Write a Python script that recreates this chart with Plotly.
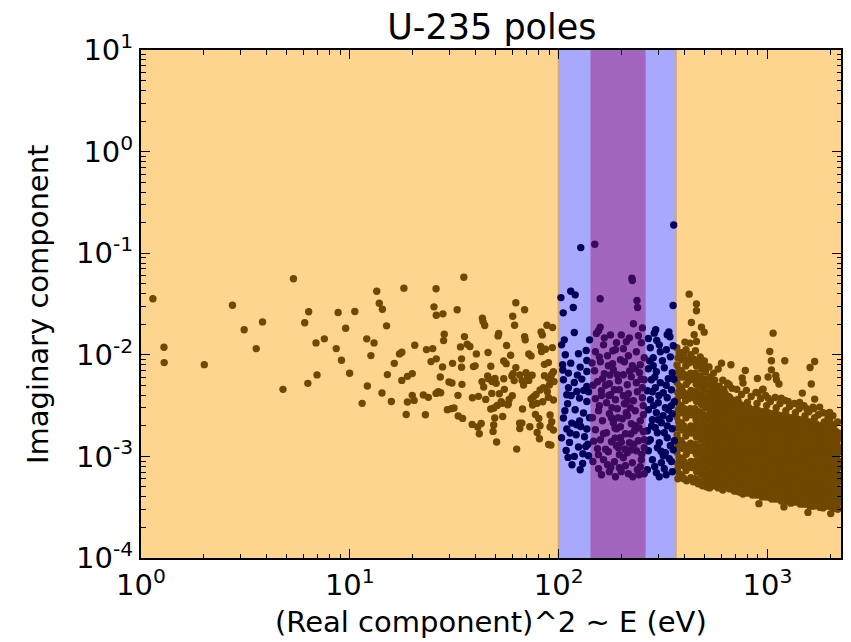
import numpy as np
import plotly.graph_objects as go

# ---------------- data (log10 of energy in eV, log10 of imaginary component) -------------
# sparse poles below 100 eV (brown)
low_pts = [
    (0.057, -1.449), (0.110, -1.926), (0.111, -2.077), (0.303, -2.097), (0.438, -1.512),
    (0.494, -1.754), (0.582, -1.676), (0.552, -1.939), (0.680, -2.340), (0.730, -1.251),
    (0.784, -1.685), (0.803, -1.577), (0.799, -2.281), (0.838, -1.883), (0.843, -2.198),
    (0.878, -1.843), (0.944, -1.584), (0.935, -1.939), (0.960, -2.054), (0.980, -1.739),
    (0.999, -2.182), (1.024, -1.574), (1.059, -2.478), (1.081, -1.843), (1.084, -2.307),
    (1.101, -2.008), (1.116, -1.883), (1.129, -1.374), (1.141, -1.492), (1.156, -1.551),
    (1.176, -1.715), (1.180, -2.195), (1.154, -2.376), (1.199, -2.459), (1.213, -2.084),
    (1.238, -1.991), (1.249, -1.975), (1.259, -1.344), (1.249, -2.252), (1.276, -2.212),
    (1.299, -2.185), (1.270, -2.587), (1.276, -2.464), (1.299, -2.399), (1.308, -2.449),
    (1.311, -1.906), (1.413, -1.350), (1.403, -1.528), (1.414, -1.610), (1.446, -1.597),
    (1.514, -1.557), (1.795, -1.488), (1.837, -1.557), (1.780, -1.620), (1.789, -1.709),
    (1.635, -1.640), (1.638, -1.673), (1.646, -1.712), (1.452, -1.798), (1.449, -1.860),
    (1.549, -1.821), (1.367, -1.949), (1.397, -1.939), (1.414, -2.040), (1.389, -2.067),
    (1.530, -1.922), (1.562, -1.896), (1.575, -1.919), (1.606, -1.991), (1.662, -1.978),
    (1.710, -1.814), (1.713, -1.791), (1.751, -1.909), (1.770, -2.005), (1.737, -2.060),
    (1.749, -2.087), (1.837, -1.821), (1.840, -1.853), (1.916, -1.774), (1.922, -1.804),
    (1.944, -1.709), (1.971, -1.732), (1.914, -1.919), (1.918, -1.968), (1.937, -1.946),
    (1.970, -1.929), (1.857, -1.991), (1.868, -2.011), (1.932, -2.094), (1.951, -2.077),
    (1.795, -2.126), (1.492, -2.084), (1.535, -2.040), (1.535, -2.123), (1.444, -2.119),
    (1.592, -2.116), (1.600, -2.109), (1.675, -2.113), (1.433, -2.218), (1.660, -2.208),
    (1.665, -2.235), (1.695, -2.232), (1.681, -2.264), (1.701, -2.281), (1.633, -2.264),
    (1.641, -2.317), (1.737, -2.235), (1.776, -2.208), (1.782, -2.185), (1.787, -2.254),
    (1.814, -2.198), (1.844, -2.176), (1.851, -2.205), (1.873, -2.202), (1.857, -2.252),
    (1.825, -2.254), (1.832, -2.297), (1.489, -2.277), (1.475, -2.267), (1.537, -2.291),
    (1.424, -2.363), (1.435, -2.373), (1.413, -2.380), (1.518, -2.399), (1.587, -2.422),
    (1.616, -2.409), (1.651, -2.439), (1.680, -2.380), (1.716, -2.383), (1.740, -2.340),
    (1.778, -2.402), (1.759, -2.484), (1.725, -2.462), (1.352, -2.395), (1.376, -2.419),
    (1.362, -2.590), (1.467, -2.540), (1.486, -2.530), (1.499, -2.524), (1.519, -2.603),
    (1.540, -2.626), (1.586, -2.685), (1.613, -2.711), (1.629, -2.676), (1.620, -2.777),
    (1.675, -2.534), (1.690, -2.524), (1.706, -2.498), (1.729, -2.478), (1.756, -2.491),
    (1.763, -2.439), (1.694, -2.622), (1.689, -2.691), (1.686, -2.754), (1.732, -2.607),
    (1.703, -2.859), (1.799, -2.928), (1.827, -2.534), (1.813, -2.672), (1.824, -2.672),
    (1.814, -2.725), (1.862, -2.708), (1.897, -2.764), (1.908, -2.826), (1.911, -2.698),
    (1.868, -2.435), (1.880, -2.412), (1.892, -2.390), (1.911, -2.346), (1.927, -2.323),
    (1.946, -2.363), (1.956, -2.297), (1.967, -2.252), (1.978, -2.264), (1.875, -2.494),
    (1.897, -2.478), (1.924, -2.462), (1.951, -2.419), (1.975, -2.445), (1.889, -2.587),
    (1.905, -2.626), (1.959, -2.593), (1.967, -2.659), (1.959, -2.711), (1.975, -2.741),
    (1.952, -2.883), (1.963, -2.889), (1.932, -2.205), (1.951, -2.232), (1.967, -2.192),
    (1.975, -2.166), (1.546, -1.236),
]

# poles in the first blue window (100 - 142 eV)
blue_left_pts = [
    (2.075, -1.781), (2.032, -2.000), (2.058, -2.082), (2.095, -1.990), (2.132, -1.958),
    (2.135, -2.056), (2.103, -2.121), (2.135, -2.164), (2.047, -2.180), (2.023, -2.246),
    (2.075, -2.272), (2.111, -2.239), (2.135, -2.312), (2.087, -2.361), (2.039, -2.393),
    (2.100, -2.426), (2.135, -2.459), (2.043, -2.482), (2.079, -2.541), (2.119, -2.573),
    (2.023, -2.622), (2.063, -2.672), (2.106, -2.705), (2.135, -2.731), (2.039, -2.731),
    (2.084, -2.787), (2.052, -2.862), (2.095, -2.908), (2.130, -2.902), (2.036, -2.941),
    (2.075, -3.000), (2.116, -2.974), (2.064, -3.082), (2.103, -3.131), (2.014, -1.902),
    (2.148, -1.853), (2.143, -2.364), (2.014, -2.816), (2.148, -2.620), (2.086, -2.688),
    (2.124, -2.806), (2.047, -2.325), (2.143, -2.993), (2.019, -2.098),
    (2.030, -2.55), (2.100, -2.65), (2.060, -2.40), (2.120, -2.35), (2.045, -3.01),
    (2.140, -2.88), (2.090, -2.20), (2.020, -2.15), (2.115, -3.07), (2.055, -2.77),
    (2.106, -0.945), (2.011, -1.437), (2.058, -1.374), (2.079, -1.410), (2.070, -1.535),
    (2.022, -1.587), (2.027, -1.853),
]

# poles in the purple window (142 - 261 eV)
purple_pts = [
    (2.191, -1.764), (2.248, -1.804), (2.300, -1.804), (2.339, -1.833), (2.382, -1.813),
    (2.401, -1.735), (2.358, -1.695), (2.396, -1.882), (2.277, -1.882), (2.215, -1.902),
    (2.310, -1.941), (2.176, -1.970), (2.234, -2.010), (2.272, -1.951), (2.334, -2.010),
    (2.372, -1.970), (2.410, -2.029), (2.200, -2.069), (2.258, -2.088), (2.296, -2.049),
    (2.353, -2.108), (2.391, -2.098), (2.172, -2.157), (2.219, -2.187), (2.262, -2.147),
    (2.310, -2.196), (2.348, -2.216), (2.387, -2.177), (2.186, -2.265), (2.243, -2.285),
    (2.286, -2.256), (2.329, -2.295), (2.372, -2.275), (2.410, -2.246), (2.205, -2.354),
    (2.248, -2.393), (2.291, -2.344), (2.334, -2.383), (2.377, -2.364), (2.176, -2.433),
    (2.229, -2.472), (2.272, -2.442), (2.315, -2.482), (2.358, -2.452), (2.401, -2.423),
    (2.191, -2.551), (2.243, -2.580), (2.281, -2.531), (2.324, -2.570), (2.367, -2.551),
    (2.406, -2.590), (2.210, -2.649), (2.262, -2.669), (2.305, -2.629), (2.348, -2.679),
    (2.391, -2.649), (2.176, -2.737), (2.229, -2.767), (2.277, -2.728), (2.320, -2.777),
    (2.363, -2.747), (2.406, -2.757), (2.200, -2.836), (2.253, -2.856), (2.296, -2.816),
    (2.339, -2.865), (2.382, -2.846), (2.186, -2.924), (2.238, -2.954), (2.286, -2.915),
    (2.329, -2.964), (2.372, -2.944), (2.410, -2.915), (2.215, -3.032), (2.267, -3.052),
    (2.310, -3.013), (2.353, -3.062), (2.396, -3.032), (2.191, -3.121), (2.243, -3.151),
    (2.291, -3.111), (2.334, -3.171), (2.377, -3.131), (2.272, -3.200),
    (2.219, -1.833), (2.324, -1.872), (2.195, -2.020), (2.315, -2.069), (2.238, -2.108),
    (2.281, -2.196), (2.367, -2.137), (2.210, -2.236), (2.401, -2.324), (2.267, -2.344),
    (2.310, -2.403), (2.195, -2.501), (2.343, -2.521), (2.253, -2.619), (2.296, -2.708),
    (2.367, -2.698), (2.215, -2.777), (2.410, -2.836), (2.277, -2.895), (2.348, -2.934),
    (2.191, -2.983), (2.291, -2.983), (2.391, -3.101), (2.234, -3.082), (2.320, -3.092),
    (2.410, -3.171), (2.205, -3.180),
    (2.160, -2.08), (2.165, -2.30), (2.162, -2.62), (2.168, -2.85), (2.164, -3.05),
    (2.225, -2.30), (2.240, -2.40), (2.255, -2.52), (2.270, -2.72), (2.285, -2.62),
    (2.300, -2.86), (2.318, -2.93), (2.330, -2.45), (2.345, -2.78), (2.360, -2.88),
    (2.385, -2.72), (2.398, -2.98), (2.405, -2.50), (2.250, -3.11), (2.300, -3.15),
    (2.355, -3.20), (2.260, -1.96), (2.340, -2.16), (2.395, -2.24), (2.205, -2.40),
    (2.225, -2.93), (2.270, -2.82), (2.385, -3.18), (2.330, -2.60), (2.245, -2.20),
    (2.173, -0.912), (2.351, -1.246), (2.353, -1.269), (2.199, -1.449), (2.375, -1.466),
    (2.378, -1.535), (2.199, -1.728), (2.181, -1.791),
]

# poles in the second blue window (261 - 364 eV)
blue_right_pts = [
    (2.465, -1.754), (2.458, -1.787), (2.430, -1.840), (2.470, -1.859), (2.520, -1.803),
    (2.528, -1.774), (2.533, -1.823), (2.439, -1.931), (2.482, -1.902), (2.516, -1.951),
    (2.549, -1.911), (2.453, -2.029), (2.497, -2.059), (2.535, -2.020), (2.430, -2.137),
    (2.468, -2.167), (2.506, -2.128), (2.544, -2.177), (2.444, -2.246), (2.487, -2.275),
    (2.525, -2.236), (2.425, -2.354), (2.463, -2.324), (2.501, -2.374), (2.540, -2.344),
    (2.439, -2.442), (2.477, -2.472), (2.520, -2.423), (2.554, -2.462), (2.430, -2.541),
    (2.468, -2.570), (2.511, -2.521), (2.544, -2.580), (2.449, -2.639), (2.492, -2.669),
    (2.530, -2.629), (2.425, -2.747), (2.463, -2.718), (2.506, -2.767), (2.544, -2.728),
    (2.439, -2.836), (2.482, -2.865), (2.520, -2.816), (2.554, -2.846), (2.430, -2.944),
    (2.473, -2.915), (2.511, -2.964), (2.549, -2.934), (2.449, -3.032), (2.492, -3.062),
    (2.530, -3.023), (2.425, -3.131), (2.468, -3.161), (2.506, -3.121), (2.544, -3.151),
    (2.482, -3.200), (2.487, -1.970), (2.449, -2.364), (2.525, -2.541), (2.473, -2.767),
    (2.501, -2.993), (2.453, -2.108), (2.535, -2.895), (2.477, -2.639),
    (2.436, -2.06), (2.460, -2.22), (2.515, -2.30), (2.540, -2.50), (2.455, -2.50),
    (2.500, -2.60), (2.520, -2.70), (2.445, -2.70), (2.490, -2.95), (2.540, -3.05),
    (2.460, -3.10), (2.515, -3.18), (2.430, -2.85), (2.552, -2.24), (2.480, -2.40),
    (2.551, -0.722), (2.548, -1.515),
]

# dense poles above 364 eV (brown): outer cloud
high_pts = [
    (2.566, -1.93), (2.571, -2.03), (2.567, -2.10), (2.572, -2.20), (2.566, -2.27), (2.570, -2.37),
    (2.568, -2.44), (2.573, -2.54), (2.566, -2.61), (2.571, -2.72), (2.567, -2.79), (2.572, -2.89),
    (2.566, -2.96), (2.570, -3.07), (2.568, -3.13), (2.571, -3.22),
    (2.588, -1.98), (2.593, -2.05), (2.587, -2.16), (2.592, -2.22), (2.589, -2.33), (2.594, -2.40),
    (2.586, -2.50), (2.591, -2.57), (2.588, -2.67), (2.593, -2.74), (2.587, -2.85), (2.592, -2.92),
    (2.589, -3.02), (2.594, -3.09), (2.588, -3.19),
    (2.610, -1.95), (2.615, -2.05), (2.609, -2.11), (2.614, -2.22), (2.611, -2.29), (2.616, -2.39),
    (2.608, -2.45), (2.613, -2.56), (2.610, -2.62), (2.615, -2.73), (2.609, -2.80), (2.614, -2.90),
    (2.611, -2.98), (2.616, -3.08), (2.610, -3.14), (2.613, -3.24),
    (2.633, -2.00), (2.638, -2.07), (2.632, -2.18), (2.637, -2.24), (2.634, -2.35), (2.639, -2.42),
    (2.631, -2.53), (2.636, -2.59), (2.633, -2.70), (2.638, -2.77), (2.632, -2.87), (2.637, -2.94),
    (2.634, -3.05), (2.639, -3.11), (2.633, -3.21),
    (2.655, -1.96), (2.660, -2.11), (2.654, -2.18), (2.659, -2.29), (2.656, -2.36), (2.661, -2.46),
    (2.653, -2.53), (2.658, -2.64), (2.655, -2.70), (2.660, -2.81), (2.654, -2.88), (2.659, -2.98),
    (2.656, -3.05), (2.661, -3.15), (2.655, -3.22),
    (2.678, -2.02), (2.683, -2.14), (2.677, -2.21), (2.682, -2.32), (2.679, -2.39), (2.684, -2.49),
    (2.676, -2.56), (2.681, -2.67), (2.678, -2.73), (2.683, -2.84), (2.677, -2.91), (2.682, -3.02),
    (2.679, -3.08), (2.684, -3.18), (2.678, -3.25),
    (2.698, -2.06), (2.703, -2.17), (2.697, -2.24), (2.702, -2.35), (2.699, -2.42), (2.704, -2.52),
    (2.696, -2.59), (2.701, -2.70), (2.698, -2.76), (2.703, -2.87), (2.697, -2.94), (2.702, -3.04),
    (2.699, -3.11), (2.704, -3.21), (2.698, -3.27),
    (2.577, -1.98), (2.576, -2.15), (2.578, -2.31), (2.577, -2.49), (2.575, -2.66), (2.578, -2.84),
    (2.576, -3.01), (2.577, -3.17),
    (2.599, -2.01), (2.600, -2.19), (2.598, -2.37), (2.601, -2.53), (2.599, -2.70), (2.597, -2.88),
    (2.600, -3.05), (2.599, -3.22),
    (2.622, -2.08), (2.621, -2.26), (2.623, -2.43), (2.622, -2.59), (2.620, -2.77), (2.623, -2.94),
    (2.621, -3.11),
    (2.645, -2.04), (2.646, -2.22), (2.644, -2.39), (2.647, -2.57), (2.645, -2.74), (2.643, -2.91),
    (2.646, -3.08), (2.645, -3.25),
    (2.668, -2.06), (2.667, -2.24), (2.669, -2.41), (2.668, -2.59), (2.666, -2.76), (2.669, -2.93),
    (2.667, -3.10), (2.668, -3.27),
    (2.689, -2.10), (2.690, -2.28), (2.688, -2.45), (2.691, -2.63), (2.689, -2.80), (2.687, -2.97),
    (2.690, -3.14), (2.689, -3.29),
    (2.710, -2.12), (2.709, -2.30), (2.711, -2.47), (2.710, -2.64), (2.708, -2.82), (2.711, -2.99),
    (2.709, -3.16), (2.710, -3.30),
    (2.720, -2.12), (2.725, -2.22), (2.719, -2.29), (2.724, -2.39), (2.721, -2.45), (2.726, -2.55),
    (2.718, -2.61), (2.723, -2.71), (2.720, -2.76), (2.725, -2.86), (2.719, -2.92), (2.724, -3.02),
    (2.721, -3.08), (2.726, -3.18), (2.720, -3.24), (2.723, -3.31),
    (2.742, -2.18), (2.747, -2.25), (2.741, -2.35), (2.746, -2.41), (2.743, -2.51), (2.748, -2.57),
    (2.740, -2.67), (2.745, -2.72), (2.742, -2.82), (2.747, -2.88), (2.741, -2.98), (2.746, -3.04),
    (2.743, -3.14), (2.748, -3.20), (2.742, -3.29),
    (2.764, -2.14), (2.769, -2.31), (2.763, -2.38), (2.768, -2.48), (2.765, -2.53), (2.770, -2.62),
    (2.762, -2.67), (2.767, -2.77), (2.764, -2.82), (2.769, -2.92), (2.763, -2.98), (2.768, -3.08),
    (2.765, -3.14), (2.770, -3.24), (2.764, -3.31),
    (2.786, -2.25), (2.791, -2.34), (2.785, -2.45), (2.790, -2.50), (2.787, -2.59), (2.792, -2.64),
    (2.784, -2.73), (2.789, -2.78), (2.786, -2.87), (2.791, -2.93), (2.785, -3.03), (2.790, -3.09),
    (2.787, -3.19), (2.792, -3.25), (2.786, -3.33),
    (2.808, -2.28), (2.813, -2.41), (2.807, -2.47), (2.812, -2.56), (2.809, -2.61), (2.814, -2.70),
    (2.806, -2.75), (2.811, -2.84), (2.808, -2.89), (2.813, -2.98), (2.807, -3.04), (2.812, -3.14),
    (2.809, -3.20), (2.814, -3.29),
    (2.830, -2.33), (2.835, -2.45), (2.829, -2.51), (2.834, -2.60), (2.831, -2.65), (2.836, -2.74),
    (2.828, -2.79), (2.833, -2.88), (2.830, -2.93), (2.835, -3.02), (2.829, -3.07), (2.834, -3.17),
    (2.831, -3.23), (2.836, -3.32),
    (2.853, -2.34), (2.858, -2.44), (2.852, -2.50), (2.857, -2.58), (2.854, -2.63), (2.859, -2.72),
    (2.851, -2.77), (2.856, -2.86), (2.853, -2.91), (2.858, -3.00), (2.852, -3.05), (2.857, -3.14),
    (2.854, -3.19), (2.859, -3.28), (2.853, -3.34),
    (2.876, -2.39), (2.881, -2.54), (2.875, -2.60), (2.880, -2.68), (2.877, -2.73), (2.882, -2.82),
    (2.874, -2.87), (2.879, -2.96), (2.876, -3.01), (2.881, -3.10), (2.875, -3.15), (2.880, -3.24),
    (2.877, -3.29), (2.882, -3.37),
    (2.899, -2.35), (2.904, -2.47), (2.898, -2.52), (2.903, -2.60), (2.900, -2.65), (2.905, -2.74),
    (2.897, -2.79), (2.902, -2.88), (2.899, -2.93), (2.904, -3.02), (2.898, -3.07), (2.903, -3.16),
    (2.900, -3.21), (2.905, -3.30), (2.899, -3.36),
    (2.922, -2.41), (2.927, -2.55), (2.921, -2.61), (2.926, -2.70), (2.923, -2.75), (2.928, -2.84),
    (2.920, -2.89), (2.925, -2.98), (2.922, -3.03), (2.927, -3.12), (2.921, -3.17), (2.926, -3.26),
    (2.923, -3.31), (2.928, -3.38),
    (2.945, -2.37), (2.950, -2.48), (2.944, -2.54), (2.949, -2.62), (2.946, -2.67), (2.951, -2.76),
    (2.943, -2.81), (2.948, -2.90), (2.945, -2.95), (2.950, -3.04), (2.944, -3.09), (2.949, -3.18),
    (2.946, -3.23), (2.951, -3.32), (2.945, -3.38),
    (2.968, -2.43), (2.973, -2.57), (2.967, -2.63), (2.972, -2.72), (2.969, -2.77), (2.974, -2.86),
    (2.966, -2.91), (2.971, -3.00), (2.968, -3.05), (2.973, -3.14), (2.967, -3.19), (2.972, -3.28),
    (2.969, -3.33), (2.974, -3.40),
    (2.991, -2.40), (2.996, -2.50), (2.990, -2.56), (2.995, -2.64), (2.992, -2.69), (2.997, -2.78),
    (2.989, -2.83), (2.994, -2.92), (2.991, -2.97), (2.996, -3.06), (2.990, -3.11), (2.995, -3.20),
    (2.992, -3.25), (2.997, -3.34), (2.991, -3.40),
    (3.014, -2.46), (3.019, -2.59), (3.013, -2.65), (3.018, -2.74), (3.015, -2.79), (3.020, -2.88),
    (3.012, -2.93), (3.017, -3.02), (3.014, -3.07), (3.019, -3.16), (3.013, -3.21), (3.018, -3.30),
    (3.015, -3.35), (3.020, -3.42),
    (3.037, -2.42), (3.042, -2.52), (3.036, -2.58), (3.041, -2.66), (3.038, -2.71), (3.043, -2.80),
    (3.035, -2.85), (3.040, -2.94), (3.037, -2.99), (3.042, -3.08), (3.036, -3.13), (3.041, -3.22),
    (3.038, -3.27), (3.043, -3.36), (3.037, -3.42),
    (3.060, -2.48), (3.065, -2.61), (3.059, -2.67), (3.064, -2.76), (3.061, -2.81), (3.066, -2.90),
    (3.058, -2.95), (3.063, -3.04), (3.060, -3.09), (3.065, -3.18), (3.059, -3.23), (3.064, -3.32),
    (3.061, -3.37), (3.066, -3.44),
    (3.083, -2.45), (3.088, -2.55), (3.082, -2.61), (3.087, -2.69), (3.084, -2.74), (3.089, -2.83),
    (3.081, -2.88), (3.086, -2.97), (3.083, -3.02), (3.088, -3.11), (3.082, -3.16), (3.087, -3.25),
    (3.084, -3.30), (3.089, -3.39), (3.083, -3.44),
    (3.106, -2.51), (3.111, -2.63), (3.105, -2.69), (3.110, -2.78), (3.107, -2.83), (3.112, -2.92),
    (3.104, -2.97), (3.109, -3.06), (3.106, -3.11), (3.111, -3.20), (3.105, -3.25), (3.110, -3.34),
    (3.107, -3.39), (3.112, -3.46),
    (3.129, -2.48), (3.134, -2.57), (3.128, -2.63), (3.133, -2.71), (3.130, -2.76), (3.135, -2.85),
    (3.127, -2.90), (3.132, -2.99), (3.129, -3.04), (3.134, -3.13), (3.128, -3.18), (3.133, -3.27),
    (3.130, -3.32), (3.135, -3.41), (3.129, -3.45),
    (3.152, -2.53), (3.157, -2.65), (3.151, -2.71), (3.156, -2.80), (3.153, -2.85), (3.158, -2.94),
    (3.150, -2.99), (3.155, -3.08), (3.152, -3.13), (3.157, -3.22), (3.151, -3.27), (3.156, -3.36),
    (3.153, -3.41), (3.158, -3.47),
    (3.175, -2.50), (3.180, -2.60), (3.174, -2.66), (3.179, -2.74), (3.176, -2.79), (3.181, -2.88),
    (3.173, -2.93), (3.178, -3.02), (3.175, -3.07), (3.180, -3.16), (3.174, -3.21), (3.179, -3.30),
    (3.176, -3.35), (3.181, -3.43), (3.175, -3.47),
    (3.198, -2.56), (3.203, -2.68), (3.197, -2.74), (3.202, -2.83), (3.199, -2.88), (3.204, -2.97),
    (3.196, -3.02), (3.201, -3.11), (3.198, -3.16), (3.203, -3.25), (3.197, -3.30), (3.202, -3.39),
    (3.199, -3.44), (3.204, -3.49),
    (3.221, -2.53), (3.226, -2.62), (3.220, -2.68), (3.225, -2.76), (3.222, -2.81), (3.227, -2.90),
    (3.219, -2.95), (3.224, -3.04), (3.221, -3.09), (3.226, -3.18), (3.220, -3.23), (3.225, -3.32),
    (3.222, -3.37), (3.227, -3.45), (3.221, -3.49),
    (3.244, -2.59), (3.249, -2.70), (3.243, -2.76), (3.248, -2.85), (3.245, -2.90), (3.250, -2.99),
    (3.242, -3.04), (3.247, -3.13), (3.244, -3.18), (3.249, -3.27), (3.243, -3.32), (3.248, -3.41),
    (3.245, -3.46), (3.250, -3.50),
    (3.267, -2.57), (3.272, -2.66), (3.266, -2.71), (3.271, -2.79), (3.268, -2.84), (3.273, -2.93),
    (3.265, -2.98), (3.270, -3.07), (3.267, -3.12), (3.272, -3.21), (3.266, -3.26), (3.271, -3.35),
    (3.268, -3.40), (3.273, -3.47),
    (3.290, -2.62), (3.295, -2.73), (3.289, -2.79), (3.294, -2.87), (3.291, -2.92), (3.296, -3.01),
    (3.288, -3.06), (3.293, -3.15), (3.290, -3.20), (3.295, -3.29), (3.289, -3.34), (3.294, -3.43),
    (3.291, -3.49),
    (3.313, -2.60), (3.318, -2.69), (3.312, -2.75), (3.317, -2.83), (3.314, -2.88), (3.319, -2.97),
    (3.311, -3.02), (3.316, -3.11), (3.313, -3.16), (3.318, -3.25), (3.312, -3.30), (3.317, -3.39),
    (3.314, -3.44), (3.319, -3.51),
    (3.336, -2.66), (3.341, -2.77), (3.335, -2.83), (3.340, -2.91), (3.337, -2.96), (3.342, -3.05),
    (3.334, -3.10), (3.339, -3.19), (3.336, -3.24), (3.341, -3.33), (3.335, -3.38), (3.340, -3.46),
    (3.337, -3.52),
    # scattered poles above 364 eV
    (2.625, -1.403), (2.660, -1.499), (2.660, -1.567), (2.636, -1.682), (2.684, -1.728),
    (2.697, -1.777), (2.649, -1.803), (2.605, -1.875), (2.629, -1.885), (2.660, -1.869),
    (3.027, -1.787), (3.011, -1.968), (3.019, -2.059), (3.083, -2.059), (2.780, -2.082),
    (2.825, -2.098), (2.894, -2.154), (2.952, -2.233), (3.226, -2.066), (3.204, -2.125),
    (3.003, -2.219), (3.040, -2.204), (3.043, -2.246), (3.055, -2.288), (3.019, -2.148),
    (3.210, -2.288), (3.167, -2.377), (2.976, -2.344), (3.226, -2.436), (3.154, -2.469),
    (3.294, -2.573), (2.817, -2.295), (2.879, -2.229), (2.883, -2.278), (2.955, -2.377),
    (2.979, -2.338), (3.003, -2.426), (3.066, -2.426), (3.099, -2.459), (3.189, -2.534),
    (3.218, -2.515), (3.250, -2.515), (3.298, -2.567), (3.298, -2.656),
    (2.959, -3.465), (3.079, -3.497), (3.194, -3.551), (3.266, -3.507), (3.303, -3.563),
    (2.804, -3.288), (2.864, -3.236), (2.649, -3.229), (2.597, -3.212),
]

# dense poles above 364 eV (brown): solid core of the cloud
core_pts = [
    (2.731, -2.27), (2.733, -2.36), (2.729, -2.44), (2.732, -2.52), (2.730, -2.60), (2.734, -2.68),
    (2.728, -2.75), (2.731, -2.83), (2.733, -2.91), (2.729, -2.99), (2.732, -3.06), (2.730, -3.14),
    (2.734, -3.21), (2.731, -3.28),
    (2.753, -2.31), (2.751, -2.39), (2.755, -2.47), (2.752, -2.54), (2.754, -2.62), (2.750, -2.69),
    (2.753, -2.77), (2.756, -2.85), (2.752, -2.92), (2.754, -3.00), (2.751, -3.07), (2.755, -3.15),
    (2.753, -3.22), (2.752, -3.29),
    (2.775, -2.34), (2.777, -2.42), (2.773, -2.50), (2.776, -2.57), (2.774, -2.64), (2.778, -2.72),
    (2.772, -2.79), (2.775, -2.86), (2.777, -2.94), (2.773, -3.01), (2.776, -3.09), (2.774, -3.16),
    (2.778, -3.23), (2.775, -3.30),
    (2.797, -2.38), (2.795, -2.46), (2.799, -2.53), (2.796, -2.60), (2.798, -2.67), (2.794, -2.75),
    (2.797, -2.82), (2.800, -2.89), (2.796, -2.96), (2.798, -3.03), (2.795, -3.10), (2.799, -3.17),
    (2.797, -3.24), (2.796, -3.31),
    (2.819, -2.42), (2.821, -2.50), (2.817, -2.57), (2.820, -2.64), (2.818, -2.71), (2.822, -2.78),
    (2.816, -2.85), (2.819, -2.92), (2.821, -2.99), (2.817, -3.06), (2.820, -3.13), (2.818, -3.20),
    (2.822, -3.27), (2.819, -3.32),
    (2.842, -2.45), (2.840, -2.52), (2.844, -2.59), (2.841, -2.66), (2.843, -2.73), (2.839, -2.80),
    (2.842, -2.87), (2.845, -2.94), (2.841, -3.01), (2.843, -3.08), (2.840, -3.15), (2.844, -3.22),
    (2.842, -3.29), (2.841, -3.34),
    (2.865, -2.48), (2.867, -2.55), (2.863, -2.62), (2.866, -2.69), (2.864, -2.76), (2.868, -2.83),
    (2.862, -2.90), (2.865, -2.97), (2.867, -3.04), (2.863, -3.11), (2.866, -3.18), (2.864, -3.25),
    (2.868, -3.31), (2.865, -3.35),
    (2.888, -2.50), (2.886, -2.57), (2.890, -2.64), (2.887, -2.71), (2.889, -2.78), (2.885, -2.85),
    (2.888, -2.92), (2.891, -2.99), (2.887, -3.06), (2.889, -3.13), (2.886, -3.20), (2.890, -3.27),
    (2.888, -3.33),
    (2.911, -2.52), (2.913, -2.59), (2.909, -2.66), (2.912, -2.73), (2.910, -2.80), (2.914, -2.87),
    (2.908, -2.94), (2.911, -3.01), (2.913, -3.08), (2.909, -3.15), (2.912, -3.22), (2.910, -3.29),
    (2.914, -3.36),
    (2.934, -2.54), (2.932, -2.61), (2.936, -2.68), (2.933, -2.75), (2.935, -2.82), (2.931, -2.89),
    (2.934, -2.96), (2.937, -3.03), (2.933, -3.10), (2.935, -3.17), (2.932, -3.24), (2.936, -3.31),
    (2.934, -3.37),
    (2.957, -2.55), (2.959, -2.62), (2.955, -2.69), (2.958, -2.76), (2.956, -2.83), (2.960, -2.90),
    (2.954, -2.97), (2.957, -3.04), (2.959, -3.11), (2.955, -3.18), (2.958, -3.25), (2.956, -3.32),
    (2.960, -3.38),
    (2.980, -2.56), (2.978, -2.63), (2.982, -2.70), (2.979, -2.77), (2.981, -2.84), (2.977, -2.91),
    (2.980, -2.98), (2.983, -3.05), (2.979, -3.12), (2.981, -3.19), (2.978, -3.26), (2.982, -3.33),
    (2.980, -3.39),
    (3.003, -2.57), (3.005, -2.64), (3.001, -2.71), (3.004, -2.78), (3.002, -2.85), (3.006, -2.92),
    (3.000, -2.99), (3.003, -3.06), (3.005, -3.13), (3.001, -3.20), (3.004, -3.27), (3.002, -3.34),
    (3.006, -3.40),
    (3.026, -2.58), (3.024, -2.65), (3.028, -2.72), (3.025, -2.79), (3.027, -2.86), (3.023, -2.93),
    (3.026, -3.00), (3.029, -3.07), (3.025, -3.14), (3.027, -3.21), (3.024, -3.28), (3.028, -3.35),
    (3.026, -3.41),
    (3.049, -2.59), (3.051, -2.66), (3.047, -2.73), (3.050, -2.80), (3.048, -2.87), (3.052, -2.94),
    (3.046, -3.01), (3.049, -3.08), (3.051, -3.15), (3.047, -3.22), (3.050, -3.29), (3.048, -3.36),
    (3.052, -3.42),
    (3.072, -2.60), (3.070, -2.67), (3.074, -2.74), (3.071, -2.81), (3.073, -2.88), (3.069, -2.95),
    (3.072, -3.02), (3.075, -3.09), (3.071, -3.16), (3.073, -3.23), (3.070, -3.30), (3.074, -3.37),
    (3.072, -3.43),
    (3.095, -2.61), (3.097, -2.68), (3.093, -2.75), (3.096, -2.82), (3.094, -2.89), (3.098, -2.96),
    (3.092, -3.03), (3.095, -3.10), (3.097, -3.17), (3.093, -3.24), (3.096, -3.31), (3.094, -3.38),
    (3.098, -3.44),
    (3.118, -2.62), (3.116, -2.69), (3.120, -2.76), (3.117, -2.83), (3.119, -2.90), (3.115, -2.97),
    (3.118, -3.04), (3.121, -3.11), (3.117, -3.18), (3.119, -3.25), (3.116, -3.32), (3.120, -3.39),
    (3.118, -3.45),
    (3.141, -2.63), (3.143, -2.70), (3.139, -2.77), (3.142, -2.84), (3.140, -2.91), (3.144, -2.98),
    (3.138, -3.05), (3.141, -3.12), (3.143, -3.19), (3.139, -3.26), (3.142, -3.33), (3.140, -3.40),
    (3.144, -3.45),
    (3.164, -2.64), (3.162, -2.71), (3.166, -2.78), (3.163, -2.85), (3.165, -2.92), (3.161, -2.99),
    (3.164, -3.06), (3.167, -3.13), (3.163, -3.20), (3.165, -3.27), (3.162, -3.34), (3.166, -3.41),
    (3.164, -3.46),
    (3.187, -2.65), (3.189, -2.72), (3.185, -2.79), (3.188, -2.86), (3.186, -2.93), (3.190, -3.00),
    (3.184, -3.07), (3.187, -3.14), (3.189, -3.21), (3.185, -3.28), (3.188, -3.35), (3.186, -3.42),
    (3.190, -3.47),
    (3.210, -2.66), (3.208, -2.73), (3.212, -2.80), (3.209, -2.87), (3.211, -2.94), (3.207, -3.01),
    (3.210, -3.08), (3.213, -3.15), (3.209, -3.22), (3.211, -3.29), (3.208, -3.36), (3.212, -3.43),
    (3.210, -3.47),
    (3.233, -2.68), (3.235, -2.75), (3.231, -2.82), (3.234, -2.89), (3.232, -2.96), (3.236, -3.03),
    (3.230, -3.10), (3.233, -3.17), (3.235, -3.24), (3.231, -3.31), (3.234, -3.38), (3.232, -3.44),
    (3.236, -3.48),
    (3.256, -2.70), (3.254, -2.77), (3.258, -2.84), (3.255, -2.91), (3.257, -2.98), (3.253, -3.05),
    (3.256, -3.12), (3.259, -3.19), (3.255, -3.26), (3.257, -3.33), (3.254, -3.40), (3.258, -3.46),
    (3.279, -2.71), (3.281, -2.78), (3.277, -2.85), (3.280, -2.92), (3.278, -2.99), (3.282, -3.06),
    (3.276, -3.13), (3.279, -3.20), (3.281, -3.27), (3.277, -3.34), (3.280, -3.41), (3.278, -3.47),
    (3.302, -2.73), (3.300, -2.80), (3.304, -2.87), (3.301, -2.94), (3.303, -3.01), (3.299, -3.08),
    (3.302, -3.15), (3.305, -3.22), (3.301, -3.29), (3.303, -3.36), (3.300, -3.43), (3.304, -3.49),
    (3.325, -2.75), (3.327, -2.82), (3.323, -2.89), (3.326, -2.96), (3.324, -3.03), (3.328, -3.10),
    (3.322, -3.17), (3.325, -3.24), (3.327, -3.31), (3.323, -3.38), (3.326, -3.45), (3.324, -3.50),
    (3.348, -2.80), (3.347, -2.95), (3.349, -3.10), (3.346, -3.25), (3.348, -3.40),
]

# dense poles above 364 eV (brown): poles lying between the rows of the core
core_fill_pts = [
    (2.737, -2.32), (2.739, -2.40), (2.736, -2.48), (2.738, -2.56), (2.737, -2.64), (2.739, -2.72),
    (2.736, -2.79), (2.738, -2.87), (2.737, -2.95), (2.739, -3.03), (2.736, -3.10), (2.738, -3.18),
    (2.737, -3.25),
    (2.759, -2.35), (2.761, -2.43), (2.758, -2.51), (2.760, -2.58), (2.759, -2.66), (2.761, -2.73),
    (2.758, -2.81), (2.760, -2.89), (2.759, -2.96), (2.761, -3.04), (2.758, -3.11), (2.760, -3.19),
    (2.759, -3.26),
    (2.781, -2.38), (2.783, -2.46), (2.780, -2.54), (2.782, -2.61), (2.781, -2.68), (2.783, -2.76),
    (2.780, -2.83), (2.782, -2.90), (2.781, -2.98), (2.783, -3.05), (2.780, -3.13), (2.782, -3.20),
    (2.781, -3.27),
    (2.803, -2.42), (2.805, -2.50), (2.802, -2.57), (2.804, -2.64), (2.803, -2.71), (2.805, -2.79),
    (2.802, -2.86), (2.804, -2.93), (2.803, -3.00), (2.805, -3.07), (2.802, -3.14), (2.804, -3.21),
    (2.803, -3.28),
    (2.825, -2.46), (2.827, -2.54), (2.824, -2.61), (2.826, -2.68), (2.825, -2.75), (2.827, -2.82),
    (2.824, -2.89), (2.826, -2.96), (2.825, -3.03), (2.827, -3.10), (2.824, -3.17), (2.826, -3.24),
    (2.825, -3.30),
    (2.848, -2.485), (2.850, -2.555), (2.847, -2.625), (2.849, -2.695), (2.848, -2.765),
    (2.850, -2.835), (2.847, -2.905), (2.849, -2.975), (2.848, -3.045), (2.850, -3.115),
    (2.847, -3.185), (2.849, -3.255), (2.848, -3.320),
    (2.871, -2.515), (2.873, -2.585), (2.870, -2.655), (2.872, -2.725), (2.871, -2.795),
    (2.873, -2.865), (2.870, -2.935), (2.872, -3.005), (2.871, -3.075), (2.873, -3.145),
    (2.870, -3.215), (2.872, -3.285), (2.871, -3.340),
    (2.894, -2.535), (2.896, -2.605), (2.893, -2.675), (2.895, -2.745), (2.894, -2.815),
    (2.896, -2.885), (2.893, -2.955), (2.895, -3.025), (2.894, -3.095), (2.896, -3.165),
    (2.893, -3.235), (2.895, -3.305), (2.894, -3.350),
    (2.917, -2.555), (2.919, -2.625), (2.916, -2.695), (2.918, -2.765), (2.917, -2.835),
    (2.919, -2.905), (2.916, -2.975), (2.918, -3.045), (2.917, -3.115), (2.919, -3.185),
    (2.916, -3.255), (2.918, -3.325),
    (2.940, -2.575), (2.942, -2.645), (2.939, -2.715), (2.941, -2.785), (2.940, -2.855),
    (2.942, -2.925), (2.939, -2.995), (2.941, -3.065), (2.940, -3.135), (2.942, -3.205),
    (2.939, -3.275), (2.941, -3.345),
    (2.963, -2.585), (2.965, -2.655), (2.962, -2.725), (2.964, -2.795), (2.963, -2.865),
    (2.965, -2.935), (2.962, -3.005), (2.964, -3.075), (2.963, -3.145), (2.965, -3.215),
    (2.962, -3.285), (2.964, -3.355),
    (2.986, -2.595), (2.988, -2.665), (2.985, -2.735), (2.987, -2.805), (2.986, -2.875),
    (2.988, -2.945), (2.985, -3.015), (2.987, -3.085), (2.986, -3.155), (2.988, -3.225),
    (2.985, -3.295), (2.987, -3.365),
    (3.009, -2.605), (3.011, -2.675), (3.008, -2.745), (3.010, -2.815), (3.009, -2.885),
    (3.011, -2.955), (3.008, -3.025), (3.010, -3.095), (3.009, -3.165), (3.011, -3.235),
    (3.008, -3.305), (3.010, -3.375),
    (3.032, -2.615), (3.034, -2.685), (3.031, -2.755), (3.033, -2.825), (3.032, -2.895),
    (3.034, -2.965), (3.031, -3.035), (3.033, -3.105), (3.032, -3.175), (3.034, -3.245),
    (3.031, -3.315), (3.033, -3.385),
    (3.055, -2.625), (3.057, -2.695), (3.054, -2.765), (3.056, -2.835), (3.055, -2.905),
    (3.057, -2.975), (3.054, -3.045), (3.056, -3.115), (3.055, -3.185), (3.057, -3.255),
    (3.054, -3.325), (3.056, -3.395),
    (3.078, -2.635), (3.080, -2.705), (3.077, -2.775), (3.079, -2.845), (3.078, -2.915),
    (3.080, -2.985), (3.077, -3.055), (3.079, -3.125), (3.078, -3.195), (3.080, -3.265),
    (3.077, -3.335), (3.079, -3.405),
    (3.101, -2.645), (3.103, -2.715), (3.100, -2.785), (3.102, -2.855), (3.101, -2.925),
    (3.103, -2.995), (3.100, -3.065), (3.102, -3.135), (3.101, -3.205), (3.103, -3.275),
    (3.100, -3.345), (3.102, -3.415),
    (3.124, -2.655), (3.126, -2.725), (3.123, -2.795), (3.125, -2.865), (3.124, -2.935),
    (3.126, -3.005), (3.123, -3.075), (3.125, -3.145), (3.124, -3.215), (3.126, -3.285),
    (3.123, -3.355), (3.125, -3.425),
    (3.147, -2.665), (3.149, -2.735), (3.146, -2.805), (3.148, -2.875), (3.147, -2.945),
    (3.149, -3.015), (3.146, -3.085), (3.148, -3.155), (3.147, -3.225), (3.149, -3.295),
    (3.146, -3.365), (3.148, -3.435),
    (3.170, -2.675), (3.172, -2.745), (3.169, -2.815), (3.171, -2.885), (3.170, -2.955),
    (3.172, -3.025), (3.169, -3.095), (3.171, -3.165), (3.170, -3.235), (3.172, -3.305),
    (3.169, -3.375), (3.171, -3.445),
    (3.193, -2.685), (3.195, -2.755), (3.192, -2.825), (3.194, -2.895), (3.193, -2.965),
    (3.195, -3.035), (3.192, -3.105), (3.194, -3.175), (3.193, -3.245), (3.195, -3.315),
    (3.192, -3.385), (3.194, -3.455),
    (3.216, -2.695), (3.218, -2.765), (3.215, -2.835), (3.217, -2.905), (3.216, -2.975),
    (3.218, -3.045), (3.215, -3.115), (3.217, -3.185), (3.216, -3.255), (3.218, -3.325),
    (3.215, -3.395), (3.217, -3.465),
    (3.239, -2.715), (3.241, -2.785), (3.238, -2.855), (3.240, -2.925), (3.239, -2.995),
    (3.241, -3.065), (3.238, -3.135), (3.240, -3.205), (3.239, -3.275), (3.241, -3.345),
    (3.238, -3.415), (3.240, -3.470),
    (3.262, -2.735), (3.264, -2.805), (3.261, -2.875), (3.263, -2.945), (3.262, -3.015),
    (3.264, -3.085), (3.261, -3.155), (3.263, -3.225), (3.262, -3.295), (3.264, -3.365),
    (3.261, -3.435),
    (3.285, -2.745), (3.287, -2.815), (3.284, -2.885), (3.286, -2.955), (3.285, -3.025),
    (3.287, -3.095), (3.284, -3.165), (3.286, -3.235), (3.285, -3.305), (3.287, -3.375),
    (3.284, -3.445),
    (3.308, -2.765), (3.310, -2.835), (3.307, -2.905), (3.309, -2.975), (3.308, -3.045),
    (3.310, -3.115), (3.307, -3.185), (3.309, -3.255), (3.308, -3.325), (3.310, -3.395),
    (3.307, -3.465),
    (3.331, -2.785), (3.333, -2.855), (3.330, -2.925), (3.332, -2.995), (3.331, -3.065),
    (3.333, -3.135), (3.330, -3.205), (3.332, -3.275), (3.331, -3.345), (3.333, -3.415),
    (3.330, -3.485),
]

blue_window = (100.0, 364.0)
purple_window = (142.0, 261.0)
x_range = (1.0, 2250.0)
y_range = (1e-4, 10.0)
x_major = [1, 10, 100, 1000]
x_major_text = ["10<sup>0</sup>", "10<sup>1</sup>", "10<sup>2</sup>", "10<sup>3</sup>"]
y_major = [1e-4, 1e-3, 1e-2, 1e-1, 1, 10]
y_major_text = ["10<sup>-4</sup>", "10<sup>-3</sup>", "10<sup>-2</sup>",
                "10<sup>-1</sup>", "10<sup>0</sup>", "10<sup>1</sup>"]

# ---------------- styling ----------------
BG_ORANGE = "#FDD58E"
BAND_BLUE = "#A8A8FC"
BAND_PURPLE = "#A366C0"
EDGE = "#D0A882"
PT_BROWN = "#704800"
PT_NAVY = "#00005A"
PT_PURPLE = "#3C0A5C"
FONT = "DejaVu Sans"
MSIZE = 7.4


def to_xy(pts):
    a = np.array(pts, dtype=float)
    return 10 ** a[:, 0], 10 ** a[:, 1]


fig = go.Figure()

ylo, yhi = y_range
for (x0, x1), col in [(blue_window, BAND_BLUE), (purple_window, BAND_PURPLE)]:
    fig.add_trace(go.Scatter(
        x=[x0, x1, x1, x0, x0], y=[ylo, ylo, yhi, yhi, ylo],
        mode="lines", fill="toself", fillcolor=col, line=dict(width=0),
        hoverinfo="skip", showlegend=False))
for xe in blue_window:
    fig.add_trace(go.Scatter(x=[xe, xe], y=[ylo, yhi], mode="lines",
                             line=dict(color=EDGE, width=2), hoverinfo="skip",
                             showlegend=False))

for pts, col in [(low_pts, PT_BROWN), (high_pts, PT_BROWN), (core_pts, PT_BROWN),
                 (core_fill_pts, PT_BROWN), (blue_left_pts, PT_NAVY),
                 (blue_right_pts, PT_NAVY), (purple_pts, PT_PURPLE)]:
    xs, ys = to_xy(pts)
    fig.add_trace(go.Scatter(x=xs, y=ys, mode="markers",
                             marker=dict(size=MSIZE, color=col, line=dict(width=0)),
                             hoverinfo="skip", showlegend=False))

x_minor = [m * 10 ** d for d in range(0, 4) for m in range(2, 10) if m * 10 ** d < x_range[1]]
y_minor = [m * 10.0 ** d for d in range(-4, 1) for m in range(2, 10)]

axis_common = dict(
    type="log", showgrid=False, zeroline=False,
    showline=True, linecolor="black", linewidth=2, mirror="allticks",
    ticks="inside", ticklen=9, tickwidth=1.2, tickcolor="black",
    tickfont=dict(family=FONT, size=29, color="black"),
)

fig.update_xaxes(
    **axis_common,
    range=[np.log10(x_range[0]), np.log10(x_range[1])],
    tickvals=x_major, ticktext=x_major_text,
    minor=dict(tickvals=x_minor, ticks="inside", ticklen=4.5, tickwidth=1.0,
               tickcolor="black", showgrid=False),
)
fig.update_yaxes(
    **axis_common,
    range=[np.log10(y_range[0]), np.log10(y_range[1])],
    tickvals=y_major, ticktext=y_major_text,
    minor=dict(tickvals=y_minor, ticks="inside", ticklen=4.5, tickwidth=1.0,
               tickcolor="black", showgrid=False),
)

fig.update_layout(
    width=851, height=642,
    margin=dict(l=141, r=8, t=50, b=84),
    paper_bgcolor="white", plot_bgcolor=BG_ORANGE,
    showlegend=False, hovermode=False,
    font=dict(family=FONT, color="black", size=29),
    title=dict(text="U-235 poles", x=0.578, xanchor="center", y=1 - 27 / 642,
               yanchor="middle", yref="container",
               font=dict(family=FONT, size=35, color="black")),
    annotations=[
        dict(text="(Real component)^2 \u223c E (eV)", xref="paper", yref="paper",
             x=0.5, y=-0.126, xanchor="center", yanchor="middle", showarrow=False,
             font=dict(family=FONT, size=29, color="black")),
        dict(text="Imaginary component", xref="paper", yref="paper",
             x=-0.147, y=0.5, xanchor="center", yanchor="middle", textangle=-90,
             showarrow=False, font=dict(family=FONT, size=29, color="black")),
    ],
)

fig.write_html("out.html")
